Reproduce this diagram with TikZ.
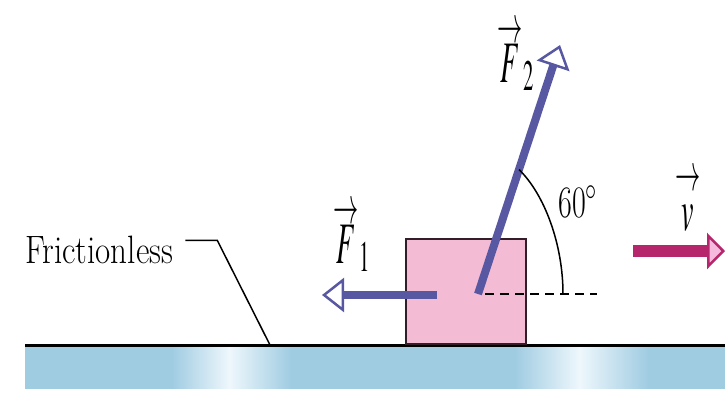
\documentclass[tikz,border=0pt]{standalone}
\usepackage{mathptmx}
\usetikzlibrary{arrows.meta,calc}
\definecolor{floorblue}{RGB}{160,204,226}
\definecolor{floorlight}{RGB}{238,247,252}
\definecolor{blockpink}{RGB}{243,188,212}
\definecolor{blockedge}{RGB}{50,30,40}
\definecolor{forceblue}{RGB}{88,88,162}
\definecolor{velmag}{RGB}{182,38,108}
\definecolor{velpink}{RGB}{246,186,222}
\pgfdeclarehorizontalshading{floorglow}{100bp}{color(0bp)=(floorblue); color(35.5bp)=(floorblue);
  color(39.6bp)=(floorlight); color(44bp)=(floorblue); color(60bp)=(floorblue);
  color(64.6bp)=(floorlight); color(69.5bp)=(floorblue); color(100bp)=(floorblue)}
\newcommand{\vecarrow}[1]{\mbox{\ooalign{\hfil\raisebox{0.68em}{\scalebox{0.9}{$\rightarrow$}}\hfil\cr\hfil$#1$\hfil\cr}}}

\begin{document}
\begin{tikzpicture}[x=1pt,y=-1pt,
  force/.style={forceblue,line width=8pt,-{Triangle[fill=white,line width=2.5pt,length=22pt,width=34pt]}},
  veclabel/.style={font=\fontsize{28}{30}\selectfont,yscale=2.1,transform shape,inner sep=0pt,anchor=base}]
\useasboundingbox (0,0) rectangle (725,392);
\shade[shading=floorglow] (25,347) rectangle (725,388);
\draw[line width=3pt] (25,345) -- (725,345);
\node[draw=blockedge,fill=blockpink,line width=2pt,minimum width=120pt,minimum height=105pt,
  anchor=south west,inner sep=0pt] (block) at (405,345) {};
\coordinate (o2) at (478,294);
\coordinate (f2tip) at (560,45);
\coordinate (o1) at (437,295);
\coordinate (f1tip) at (322,295);
\coordinate (dashend) at (597,294);
\coordinate (arcend) at (563,294);
\coordinate (vstart) at (633,251);
\coordinate (vtip) at (725,251);
\draw[line width=2pt,dash pattern=on 9pt off 6pt] ([xshift=7pt]o2) -- (dashend);
\draw[force] (o1) -- (f1tip);
\draw[force] (o2) -- (f2tip);
\draw[line width=1.5pt] ($(o2)!0.5!(f2tip)$) .. controls (545,195) and (563,245) .. (arcend);
\draw[velmag,line width=12pt,-{Triangle[fill=velpink,line width=2.5pt,length=18pt,width=36pt]}] (vstart) -- (vtip);
\node[font=\fontsize{33}{36}\selectfont,yscale=1.2,transform shape,anchor=base west,inner sep=0pt] (fric) at (25,263) {Frictionless};
\coordinate (fricfoot) at (270,345);
\draw[line width=1.5pt] ([xshift=12pt,yshift=9pt]fric.east) -- ++(32,0) -- (fricfoot);
\node[veclabel] (f1label) at (352,263) {$\vecarrow{F}_{1}$};
\node[veclabel] (f2label) at (516,82) {$\vecarrow{F}_{2}$};
\node[veclabel] (vlabel) at (688,230) {$\vecarrow{v}$};
\node[font=\fontsize{30}{32}\selectfont,yscale=1.5,transform shape,inner sep=0pt] (angle) at (578,202) {60$^\circ$};
\end{tikzpicture}
\end{document}
